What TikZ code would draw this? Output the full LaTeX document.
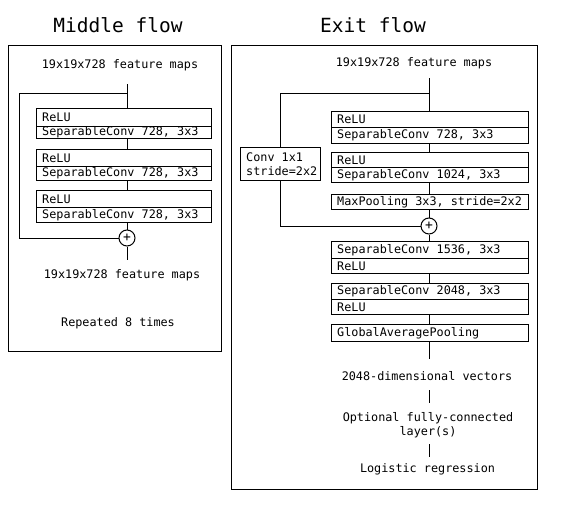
\documentclass[tikz,border=0pt]{standalone}
\usepackage{fontspec}
\setmonofont{DejaVu Sans Mono}
\newfontfamily\monof{DejaVu Sans Mono}
\begin{document}
\begin{tikzpicture}[x=1pt,y=-1pt,
  every node/.style={font=\monof\fontsize{11.8}{13.5}\selectfont, text=black},
  ttl/.style={font=\monof\fontsize{19.5}{22}\selectfont},
  lbl/.style={align=center, inner sep=0pt},
  frame/.style={draw, line width=1.1pt, rectangle, anchor=north west, inner sep=0pt},
  mrow/.style={draw, line width=1pt, rectangle, anchor=north west, inner sep=0pt, minimum width=175pt},
  erow/.style={draw, line width=1pt, rectangle, anchor=north west, inner sep=0pt, minimum width=197pt},
  rtxt/.style={anchor=west, inner sep=0pt, xshift=6pt, align=left},
  plus/.style={draw, line width=1pt, circle, minimum size=16pt, inner sep=0pt, font=\monof\fontsize{13}{13}\selectfont},
  conn/.style={draw, line width=1pt}
]
\useasboundingbox (0,0) rectangle (575,519);

% ---------------- Middle flow ----------------
\node[ttl] (mtitle) at (118,25) {Middle flow};
\node[frame, minimum width=213pt, minimum height=306pt] (mframe) at (8,45) {};
\node[lbl] (min) at (120,65) {19x19x728 feature maps};
\coordinate (mtop) at (127,84);
\coordinate (msplit) at (127,93);
\coordinate (mL1) at (19,93);
\coordinate (mL2) at (19,238);

\node[mrow, minimum height=18pt] (m1a) at (36,108) {};
\node[mrow, minimum height=12pt] (m1b) at (36,126) {};
\node[mrow, minimum height=17pt] (m2a) at (36,149) {};
\node[mrow, minimum height=14pt] (m2b) at (36,166) {};
\node[mrow, minimum height=17pt] (m3a) at (36,190) {};
\node[mrow, minimum height=15pt] (m3b) at (36,207) {};
\node[rtxt] (m1at) at (m1a.west) {ReLU};
\node[rtxt] (m1bt) at (m1b.west) {SeparableConv 728, 3x3};
\node[rtxt] (m2at) at (m2a.west) {ReLU};
\node[rtxt] (m2bt) at (m2b.west) {SeparableConv 728, 3x3};
\node[rtxt] (m3at) at (m3a.west) {ReLU};
\node[rtxt] (m3bt) at (m3b.west) {SeparableConv 728, 3x3};
\node[plus] (mplus) at (127,238) {+};
\coordinate (mbot) at (127,260);
\node[lbl] (mout) at (122,275) {19x19x728 feature maps};
\node[lbl] (mrep) at (118,323) {Repeated 8 times};

\draw[conn] (mtop) -- (mtop |- m1a.north);
\draw[conn] (msplit) -- (mL1) -- (mL2) -- (mplus.west);
\draw[conn] (m1b.south -| mtop) -- (m2a.north -| mtop);
\draw[conn] (m2b.south -| mtop) -- (m3a.north -| mtop);
\draw[conn] (m3b.south -| mtop) -- (mplus.north);
\draw[conn] (mplus.south) -- (mbot);

% ---------------- Exit flow ----------------
\node[ttl] (etitle) at (373,25) {Exit flow};
\node[frame, minimum width=306pt, minimum height=444pt] (eframe) at (231,45) {};
\node[lbl] (ein) at (414,63) {19x19x728 feature maps};
\coordinate (etop) at (429,78);
\coordinate (esplit) at (429,93);

\node[erow, minimum height=16pt] (e1a) at (331,111) {};
\node[erow, minimum height=16pt] (e1b) at (331,127) {};
\node[erow, minimum height=15pt] (e2a) at (331,152) {};
\node[erow, minimum height=15pt] (e2b) at (331,167) {};
\node[erow, minimum height=15pt] (e3) at (331,194) {};
\node[plus] (eplus) at (429,226) {+};
\node[erow, minimum height=17pt] (e4a) at (331,241) {};
\node[erow, minimum height=15pt] (e4b) at (331,258) {};
\node[erow, minimum height=16pt] (e5a) at (331,283) {};
\node[erow, minimum height=15pt] (e5b) at (331,299) {};
\node[erow, minimum height=17pt] (e6) at (331,324) {};
\node[rtxt] (e1at) at (e1a.west) {ReLU};
\node[rtxt] (e1bt) at (e1b.west) {SeparableConv 728, 3x3};
\node[rtxt] (e2at) at (e2a.west) {ReLU};
\node[rtxt] (e2bt) at (e2b.west) {SeparableConv 1024, 3x3};
\node[rtxt] (e3t) at (e3.west) {MaxPooling 3x3, stride=2x2};
\node[rtxt] (e4at) at (e4a.west) {SeparableConv 1536, 3x3};
\node[rtxt] (e4bt) at (e4b.west) {ReLU};
\node[rtxt] (e5at) at (e5a.west) {SeparableConv 2048, 3x3};
\node[rtxt] (e5bt) at (e5b.west) {ReLU};
\node[rtxt] (e6t) at (e6.west) {GlobalAveragePooling};

\node[draw, line width=1pt, rectangle, anchor=north west, inner sep=0pt, minimum width=80pt, minimum height=33pt] (conv) at (240,147) {};
\node[rtxt] (convt) at (conv.west) {Conv 1x1\\stride=2x2};

\coordinate (egap) at (429,359);
\node[lbl] (evec) at (427,376) {2048-dimensional vectors};
\coordinate (ev1) at (429,390);
\coordinate (ev2) at (429,403);
\node[lbl] (efc) at (428,425) {Optional fully-connected\\layer(s)};
\coordinate (ef1) at (429,444);
\coordinate (ef2) at (429,457);
\node[lbl] (elog) at (427.5,469) {Logistic regression};

\draw[conn] (etop) -- (etop |- e1a.north);
\draw[conn] (esplit) -| (conv.north);
\draw[conn] (conv.south) |- (eplus.west);
\draw[conn] (e1b.south -| etop) -- (e2a.north -| etop);
\draw[conn] (e2b.south -| etop) -- (e3.north -| etop);
\draw[conn] (e3.south -| etop) -- (eplus.north);
\draw[conn] (eplus.south) -- (e4a.north -| etop);
\draw[conn] (e4b.south -| etop) -- (e5a.north -| etop);
\draw[conn] (e5b.south -| etop) -- (e6.north -| etop);
\draw[conn] (e6.south -| etop) -- (egap);
\draw[conn] (ev1) -- (ev2);
\draw[conn] (ef1) -- (ef2);
\end{tikzpicture}
\end{document}
